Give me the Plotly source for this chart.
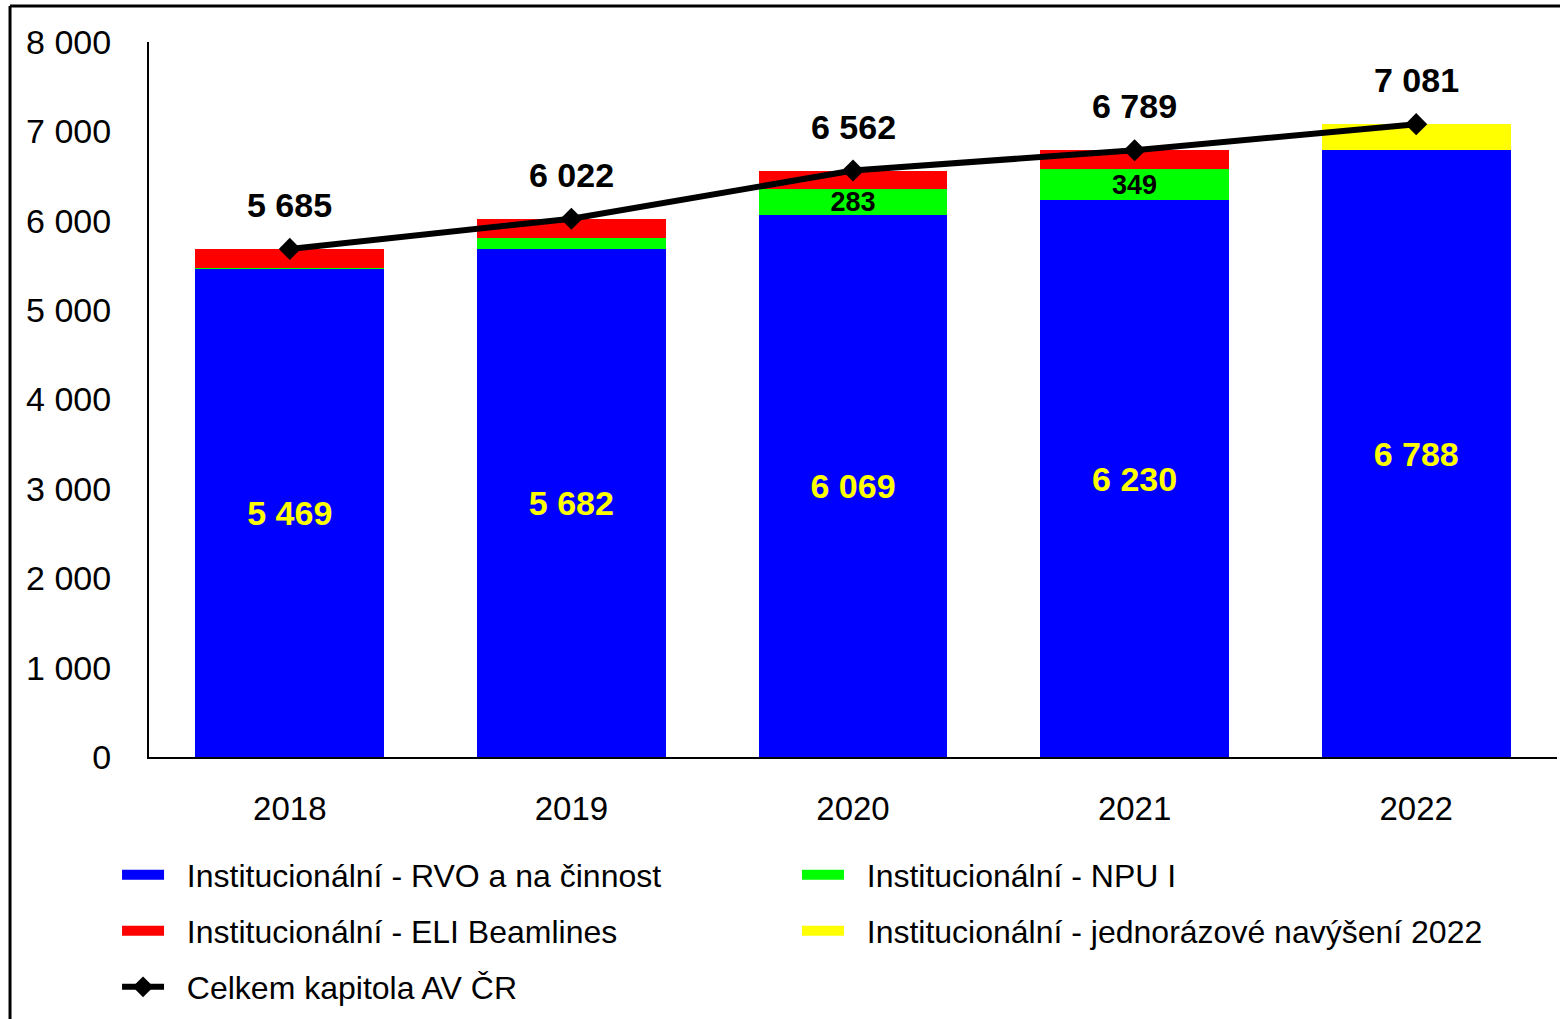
import plotly.graph_objects as go

years = ["2018", "2019", "2020", "2021", "2022"]
rvo = [5469, 5682, 6069, 6230, 6788]
npu = [6, 130, 283, 349, 0]
eli = [210, 210, 210, 210, 0]
jedn = [0, 0, 0, 0, 293]
total = [5685, 6022, 6562, 6789, 7081]
npu_labels = ["", "", "283", "349", ""]

names = ["Institucionální - RVO a na činnost", "Institucionální - NPU I",
         "Institucionální - ELI Beamlines", "Institucionální - jednorázové navýšení 2022"]
colors = ["#0000FF", "#00FF00", "#FF0000", "#FFFF00"]
line_name = "Celkem kapitola AV ČR"

FONT = "Liberation Sans, Arial, sans-serif"
GAP = "\u00a0\u00a0"  # visual gap between legend symbol and its text

fig = go.Figure()
fig.add_trace(go.Bar(
    x=years, y=rvo, name=names[0], showlegend=False,
    marker=dict(color=colors[0], line=dict(width=0)),
    texttemplate="<b>%{y:,}</b>", textposition="inside", insidetextanchor="middle",
    textangle=0, constraintext="none",
    textfont=dict(color="#FFFF00", size=34, family=FONT),
))
fig.add_trace(go.Bar(
    x=years, y=npu, name=names[1], showlegend=False,
    marker=dict(color=colors[1], line=dict(width=0)),
    text=[f"<b>{t}</b>" if t else "" for t in npu_labels],
    textposition="inside", insidetextanchor="middle", textangle=0, constraintext="none",
    textfont=dict(color="#000000", size=27, family=FONT),
))
fig.add_trace(go.Bar(
    x=years, y=eli, name=names[2], showlegend=False,
    marker=dict(color=colors[2], line=dict(width=0)),
))
fig.add_trace(go.Bar(
    x=years, y=jedn, name=names[3], showlegend=False,
    marker=dict(color=colors[3], line=dict(width=0)),
))
fig.add_trace(go.Scatter(
    x=years, y=total, name=GAP + line_name, mode="lines+markers", legend="legend5",
    line=dict(color="#000000", width=6),
    marker=dict(symbol="diamond", size=17, color="#000000"),
))

# legend-only entries with wide colour blocks, one legend per position
for k, (nm, col) in enumerate(zip(names, colors)):
    fig.add_trace(go.Scatter(
        x=[None], y=[None], mode="lines", name=GAP + nm,
        legend=f"legend{'' if k == 0 else k + 1}",
        line=dict(color=col, width=20), hoverinfo="skip",
    ))

# total labels: x given as category index so the annotation lands on its category
for i, v in enumerate(total):
    fig.add_annotation(x=i, y=v, xref="x", yref="y", text=f"<b>{v:,}</b>".replace(",", " "),
                       showarrow=False, yshift=44,
                       font=dict(size=34, color="#000000", family=FONT))

# frame (left and top edges visible in the reference)
fig.add_shape(type="line", xref="paper", yref="paper", x0=-0.0987, x1=1.01, y0=1.0503, y1=1.0503,
              line=dict(color="black", width=3))
fig.add_shape(type="line", xref="paper", yref="paper", x0=-0.0987, x1=-0.0987, y0=1.0503, y1=-0.4,
              line=dict(color="black", width=3))

leg_common = dict(orientation="h", xanchor="left", yanchor="middle", itemwidth=42,
                  traceorder="normal",
                  font=dict(size=32, family=FONT, color="#000000"),
                  bgcolor="rgba(0,0,0,0)", borderwidth=0)
col1_x, col2_x = -0.0227, 0.4602
row_y = [-0.165, -0.2434, -0.3217]

fig.update_layout(
    width=1560, height=1019,
    margin=dict(l=149, r=3, t=42, b=262),
    barmode="stack", bargap=0.33,
    separators=", ",
    plot_bgcolor="white", paper_bgcolor="white",
    font=dict(family=FONT, size=33, color="#000000"),
    showlegend=True,
    legend=dict(leg_common, x=col1_x, y=row_y[0]),
    legend2=dict(leg_common, x=col2_x, y=row_y[0]),
    legend3=dict(leg_common, x=col1_x, y=row_y[1]),
    legend4=dict(leg_common, x=col2_x, y=row_y[1]),
    legend5=dict(leg_common, x=col1_x, y=row_y[2]),
    xaxis=dict(type="category", showline=True, linecolor="black", linewidth=2, ticks="",
               showgrid=False, tickfont=dict(size=33), ticklabelstandoff=21, automargin=False),
    yaxis=dict(range=[0, 8000], dtick=1000, tickformat=",", showline=True, linecolor="black",
               linewidth=2, ticks="", showgrid=False, zeroline=False,
               tickfont=dict(size=34), ticklabelstandoff=29, automargin=False),
)

fig.write_html("out.html", config={"displayModeBar": False},
               post_script="document.body.style.margin='0';document.body.style.overflow='hidden';")
